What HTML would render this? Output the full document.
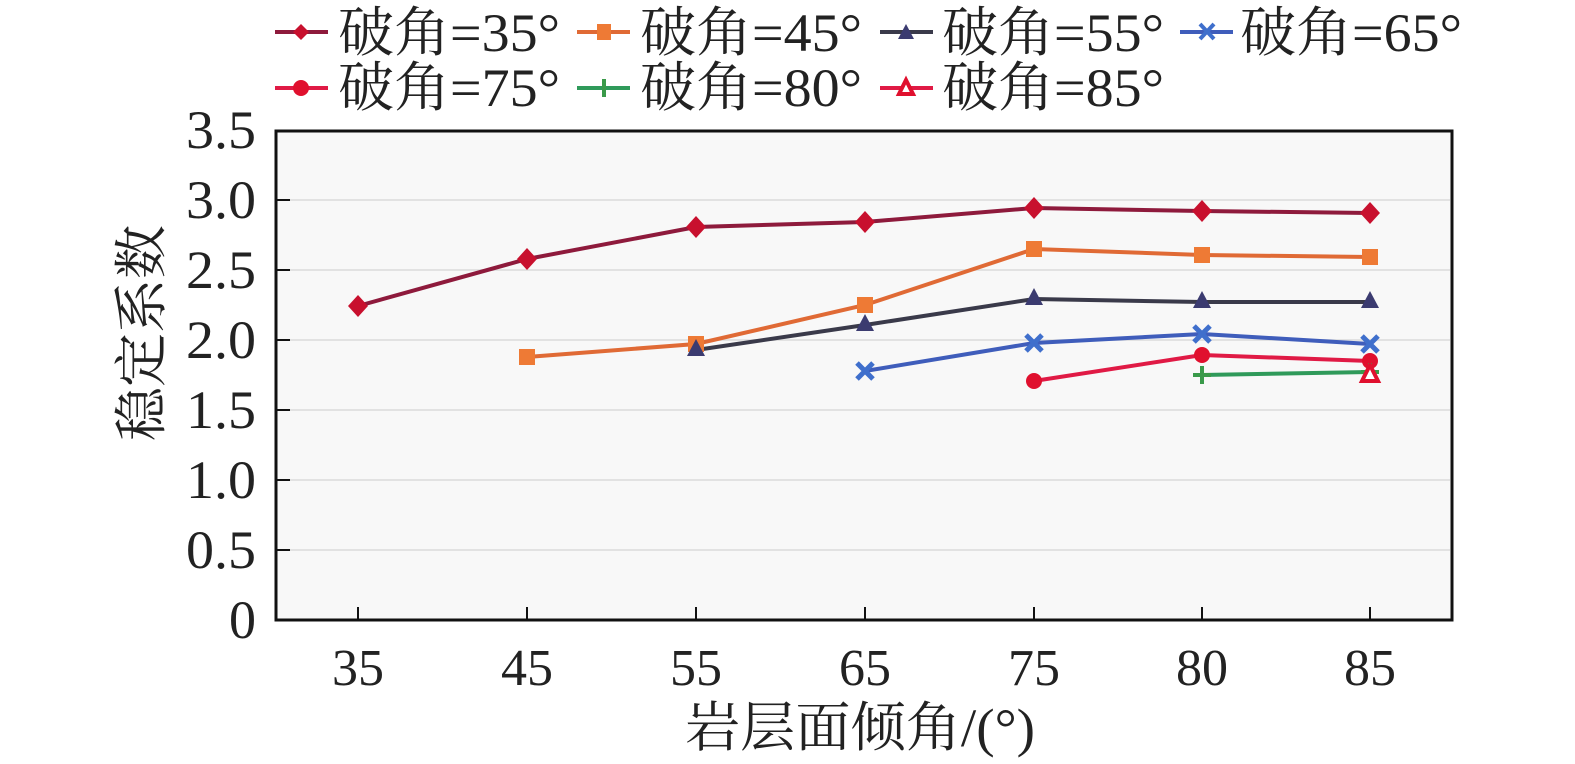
<!DOCTYPE html><html><head><style>body{margin:0;background:#fff}svg{display:block}text{font-family:"Liberation Serif","Noto Serif CJK SC",serif;fill:#222}</style></head><body>
<svg width="1575" height="764" viewBox="0 0 1575 764">
<rect x="0" y="0" width="1575" height="764" fill="#fff"/>
<rect x="275" y="131" width="1177" height="489" fill="#f8f8f8"/>
<g stroke="#e2e2e2" stroke-width="2">
<line x1="277" x2="1450" y1="200" y2="200"/><line x1="277" x2="1450" y1="270" y2="270"/><line x1="277" x2="1450" y1="340" y2="340"/><line x1="277" x2="1450" y1="410" y2="410"/><line x1="277" x2="1450" y1="480" y2="480"/><line x1="277" x2="1450" y1="550" y2="550"/></g>
<rect x="276" y="131" width="1176" height="489" fill="none" stroke="#111" stroke-width="3"/>
<g stroke="#111" stroke-width="2">
<line x1="276" x2="290" y1="200" y2="200"/><line x1="276" x2="290" y1="270" y2="270"/><line x1="276" x2="290" y1="340" y2="340"/><line x1="276" x2="290" y1="410" y2="410"/><line x1="276" x2="290" y1="480" y2="480"/><line x1="276" x2="290" y1="550" y2="550"/>
<line x1="358" x2="358" y1="620" y2="607"/><line x1="527" x2="527" y1="620" y2="607"/><line x1="696" x2="696" y1="620" y2="607"/><line x1="865" x2="865" y1="620" y2="607"/><line x1="1034" x2="1034" y1="620" y2="607"/><line x1="1202" x2="1202" y1="620" y2="607"/><line x1="1370" x2="1370" y1="620" y2="607"/></g>
<g font-size="54" text-anchor="end">
<text x="256" y="148" textLength="70" lengthAdjust="spacingAndGlyphs">3.5</text><text x="256" y="218" textLength="70" lengthAdjust="spacingAndGlyphs">3.0</text><text x="256" y="288" textLength="70" lengthAdjust="spacingAndGlyphs">2.5</text><text x="256" y="358" textLength="70" lengthAdjust="spacingAndGlyphs">2.0</text><text x="256" y="428" textLength="70" lengthAdjust="spacingAndGlyphs">1.5</text><text x="256" y="498" textLength="70" lengthAdjust="spacingAndGlyphs">1.0</text><text x="256" y="568" textLength="70" lengthAdjust="spacingAndGlyphs">0.5</text><text x="256" y="638">0</text></g>
<g font-size="52" text-anchor="middle">
<text x="358" y="685">35</text><text x="527" y="685">45</text><text x="696" y="685">55</text><text x="865" y="685">65</text><text x="1034" y="685">75</text><text x="1202" y="685">80</text><text x="1370" y="685">85</text>
<text x="860" y="746" font-size="54" textLength="350" lengthAdjust="spacingAndGlyphs">岩层面倾角/(°)</text>
<text transform="translate(160,333) rotate(-90)" font-size="54">稳定系数</text></g>
<g fill="none" stroke-width="4">
<polyline stroke="#8e1a3c" points="358,306 527,259 696,227 865,222 1034,208 1202,211 1370,213"/>
<polyline stroke="#e06a35" points="527,357 696,344 865,305 1034,249 1202,255 1370,257"/>
<polyline stroke="#3a3a4a" points="696,350 865,325 1034,299 1202,302 1370,302"/>
<polyline stroke="#3f5dbb" points="865,371 1034,343 1202,334 1370,344"/>
<polyline stroke="#e01a45" points="1034,381 1202,355 1370,361"/>
<polyline stroke="#2f9a5a" points="1202,375 1370,372"/>
</g>
<g fill="#c8102e">
<path d="M358,295 l10,11 -10,11 -10,-11z"/><path d="M527,248 l10,11 -10,11 -10,-11z"/><path d="M696,216 l10,11 -10,11 -10,-11z"/><path d="M865,211 l10,11 -10,11 -10,-11z"/><path d="M1034,197 l10,11 -10,11 -10,-11z"/><path d="M1202,200 l10,11 -10,11 -10,-11z"/><path d="M1370,202 l10,11 -10,11 -10,-11z"/></g>
<g fill="#ee7a35"><rect x="519" y="349" width="16" height="16"/><rect x="688" y="336" width="16" height="16"/><rect x="857" y="297" width="16" height="16"/><rect x="1026" y="241" width="16" height="16"/><rect x="1194" y="247" width="16" height="16"/><rect x="1362" y="249" width="16" height="16"/></g>
<g fill="#3b3b70"><path d="M696,339 l9,17 h-18z"/><path d="M865,314 l9,17 h-18z"/><path d="M1034,288 l9,17 h-18z"/><path d="M1202,291 l9,17 h-18z"/><path d="M1370,291 l9,17 h-18z"/></g>
<g stroke="#3f6fcc" stroke-width="5"><path d="M857,363 l16,16 M873,363 l-16,16"/><path d="M1026,335 l16,16 M1042,335 l-16,16"/><path d="M1194,326 l16,16 M1210,326 l-16,16"/><path d="M1362,336 l16,16 M1378,336 l-16,16"/></g>
<g fill="#e0102e"><circle cx="1034" cy="381" r="8"/><circle cx="1202" cy="355" r="8"/><circle cx="1370" cy="361" r="8"/></g>
<g stroke="#3a9a4a" stroke-width="4"><path d="M1202,366 v18 M1193,375 h18"/><path d="M1370,363 v18 M1361,372 h18"/></g>
<path d="M1370,365 l8,16 h-16z" fill="#fff" stroke="#e0102e" stroke-width="4"/>
<g stroke-width="4">
<line x1="275" x2="328" y1="32" y2="32" stroke="#8e1a3c"/><path d="M301,24 l8,8 -8,8 -8,-8z" fill="#c8102e"/>
<line x1="577" x2="630" y1="32" y2="32" stroke="#e06a35"/><rect x="597" y="24" width="14" height="16" fill="#ee7a35"/>
<line x1="880" x2="933" y1="32" y2="32" stroke="#3a3a4a"/><path d="M906,24 l8,15 h-16z" fill="#3b3b70"/>
<line x1="1180" x2="1233" y1="32" y2="32" stroke="#3f5dbb"/><path d="M1200,24 l14,15 M1214,24 l-14,15" stroke="#3f6fcc"/>
<line x1="275" x2="328" y1="88" y2="88" stroke="#e01a45"/><circle cx="301" cy="88" r="8" fill="#e0102e"/>
<line x1="577" x2="630" y1="88" y2="88" stroke="#2f9a5a"/><path d="M604,79 v18" stroke="#3a9a4a"/>
<line x1="880" x2="933" y1="88" y2="88" stroke="#e01a45"/><path d="M906,80 l7,14 h-14z" fill="#fff" stroke="#e0102e"/>
</g>
<g font-size="54">
<text x="338" y="51" textLength="222" lengthAdjust="spacingAndGlyphs">破角=35°</text><text x="640" y="51" textLength="222" lengthAdjust="spacingAndGlyphs">破角=45°</text><text x="942" y="51" textLength="222" lengthAdjust="spacingAndGlyphs">破角=55°</text><text x="1240" y="51" textLength="222" lengthAdjust="spacingAndGlyphs">破角=65°</text>
<text x="338" y="106" textLength="222" lengthAdjust="spacingAndGlyphs">破角=75°</text><text x="640" y="106" textLength="222" lengthAdjust="spacingAndGlyphs">破角=80°</text><text x="942" y="106" textLength="222" lengthAdjust="spacingAndGlyphs">破角=85°</text></g>
</svg></body></html>
